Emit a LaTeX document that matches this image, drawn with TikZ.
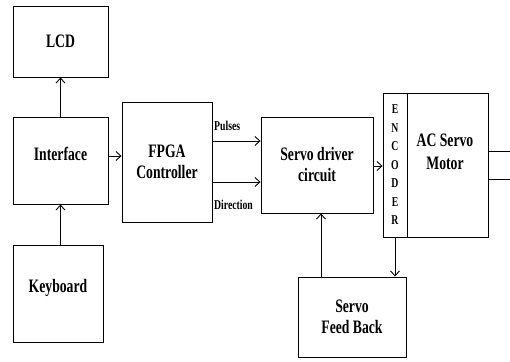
\documentclass[tikz,border=0pt]{standalone}
\usepackage{fontspec}
\setmainfont{Liberation Serif}[FakeStretch=0.72]
\usetikzlibrary{positioning, arrows.meta}

\tikzset{
  block/.style={draw, line width=0.9pt, font=\fontsize{19}{21}\selectfont\bfseries, align=center, inner sep=0pt},
  arr/.style={-{Straight Barb[length=5pt, width=9pt]}, line width=0.9pt},
  sig/.style={font=\fontsize{13.5}{14}\selectfont\bfseries, inner sep=0pt}
}

\begin{document}
\begin{tikzpicture}[x=1pt, y=-1pt]
\useasboundingbox (0,0) rectangle (510,361);

% left column
\node[block, minimum width=95, minimum height=71] (lcd) at (60.5,41.5) {LCD};
\node[block, minimum width=95, minimum height=87] (iface) at (60.5,160.5) {\raisebox{0.5pt}[0pt][0pt]{Interface}};
\node[block, minimum width=90, minimum height=97] (keyb) at (58,293.5) {\raisebox{1pt}[0pt][0pt]{Keyboard}};

% controller and driver
\node[block, minimum width=90, minimum height=120] (fpga) at (167,162) {FPGA\\Controller};
\node[block, minimum width=112, minimum height=96] (drv) at (317,165) {Servo driver\\circuit};

% motor with encoder strip
\node[block, minimum width=24, minimum height=144, font=\fontsize{13.5}{18.5}\selectfont\bfseries] (enc) at (395,165) {E\\N\\C\\O\\D\\E\\R};
\node[block, minimum width=81, minimum height=144, anchor=west] (motor) at (enc.east) {};
\node[font=\fontsize{19}{23}\selectfont\bfseries, align=center] (motortxt) at (445,152) {AC Servo\\Motor};

% feedback
\node[block, minimum width=108, minimum height=80] (fb) at (352,317) {Servo\\Feed Back};

% connectors
\draw[arr] (iface) -- (lcd);
\draw[arr] (keyb.north -| iface) -- (iface);
\draw[arr] (iface.east |- 0,156) -- (fpga.west |- 0,156);
\draw[arr] (fpga.east |- 0,141) -- (drv.west |- 0,141);
\draw[arr] (fpga.east |- 0,182) -- (drv.west |- 0,182);
\draw[arr] (drv.east |- 0,166) -- (enc.west |- 0,166);
\draw[arr] (enc.south) -- (enc.south |- fb.north);
\draw[arr] (fb.north -| 321,0) -- (drv.south -| 321,0);

% motor shaft lines
\coordinate (out1) at (510,151);
\coordinate (out2) at (510,179);
\draw[line width=0.9pt] (motor.east |- out1) -- (out1);
\draw[line width=0.9pt] (motor.east |- out2) -- (out2);

% signal labels
\node[sig, anchor=west] (pulses) at (214,126) {Pulses};
\node[sig, anchor=west] (dir) at (214,205) {Direction};
\end{tikzpicture}
\end{document}
